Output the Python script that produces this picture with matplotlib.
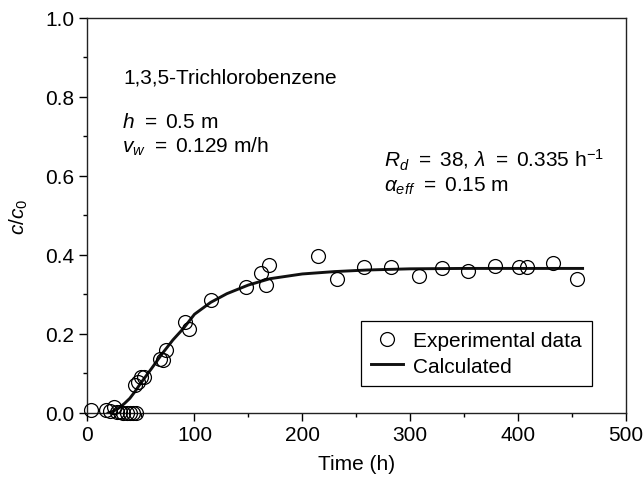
import matplotlib
matplotlib.use("Agg")
import matplotlib.pyplot as plt
from matplotlib.ticker import MultipleLocator, FormatStrFormatter

plt.rcParams['font.family'] = ['Liberation Sans', 'DejaVu Sans']
plt.rcParams['mathtext.fontset'] = 'custom'
plt.rcParams['mathtext.rm'] = 'Liberation Sans'
plt.rcParams['mathtext.it'] = 'Liberation Sans:italic'
plt.rcParams['mathtext.bf'] = 'Liberation Sans:bold'

TAM = 15

tiempo_exp = [4, 18, 22, 25, 28, 31, 34, 37, 40, 43, 46,
              45, 48, 50, 53, 68, 71, 74, 91, 95, 115, 148,
              162, 166, 169, 215, 232, 257, 282, 308, 330, 354,
              379, 401, 408, 433, 455]
conc_exp = [0.008, 0.008, 0.005, 0.015, 0.003, 0.002, 0.0, 0.0, 0.0, 0.0, 0.0,
            0.072, 0.078, 0.090, 0.090, 0.137, 0.135, 0.160, 0.231, 0.213, 0.287, 0.318,
            0.354, 0.325, 0.375, 0.398, 0.339, 0.369, 0.369, 0.348, 0.367, 0.359,
            0.371, 0.369, 0.369, 0.380, 0.339]

# Curva calculada
tiempo_calc = [20, 25, 30, 35, 40, 45, 50, 60, 70, 80, 90, 100, 115, 130,
               150, 170, 200, 230, 260, 300, 350, 400, 460]
conc_calc = [0.0, 0.005, 0.013, 0.024, 0.037, 0.055, 0.075, 0.112, 0.150, 0.185,
             0.215, 0.250, 0.280, 0.302, 0.324, 0.340, 0.352, 0.358, 0.362, 0.365,
             0.366, 0.366, 0.366]

fig = plt.figure(figsize=(6.44, 4.81), dpi=100)
ax = fig.add_axes([0.1346, 0.1393, 0.837, 0.8212])

ax.plot(tiempo_exp, conc_exp, linestyle='none', marker='o', markersize=10,
        markerfacecolor='none', markeredgecolor='black', markeredgewidth=0.9,
        label='Experimental data', clip_on=False, zorder=3)
ax.plot(tiempo_calc, conc_calc, color='#111111', linewidth=2.1, label='Calculated', zorder=2)

ax.set_xlim(0, 500)
ax.set_ylim(0, 1.0)
ax.xaxis.set_major_locator(MultipleLocator(100))
ax.xaxis.set_minor_locator(MultipleLocator(50))
ax.yaxis.set_major_locator(MultipleLocator(0.2))
ax.yaxis.set_minor_locator(MultipleLocator(0.1))
ax.yaxis.set_major_formatter(FormatStrFormatter('%.1f'))
ax.tick_params(which='major', direction='out', length=6, width=1, labelsize=TAM,
               top=False, right=False, pad=3)
ax.tick_params(which='minor', direction='out', length=3, width=1, top=False, right=False)
for sp in ax.spines.values():
    sp.set_linewidth(1.0)
    sp.set_color('#222222')

ax.set_xlabel('Time (h)', fontsize=TAM, labelpad=7)
ax.set_ylabel(r'$c/c_0$', fontsize=TAM, labelpad=11)

# Textos del grafico
ax.text(33.7, 0.85, '1,3,5-Trichlorobenzene', fontsize=TAM, va='center')
ax.text(33, 0.737, r'$h\;\,=\;$0.5 m', fontsize=TAM, va='center')
ax.text(33, 0.676, r'$v_w\;\,=\;$0.129 m/h', fontsize=TAM, va='center')
ax.text(276, 0.643, r'$R_d\;\,=\;$38, $\lambda\;\,=\;$0.335 h$^{-1}$', fontsize=TAM, va='center')
ax.text(276, 0.577, r'$\alpha_{eff}\;\,=\;$0.15 m', fontsize=TAM, va='center')

leg = ax.legend(loc='upper right', bbox_to_anchor=(0.9375, 0.233), fontsize=TAM,
                frameon=True, fancybox=False, edgecolor='black', framealpha=1,
                borderpad=0.5, handlelength=1.5, handletextpad=0.5, labelspacing=0.3,
                borderaxespad=0)
leg.get_frame().set_linewidth(0.9)

fig.savefig('out.png', dpi=100)
